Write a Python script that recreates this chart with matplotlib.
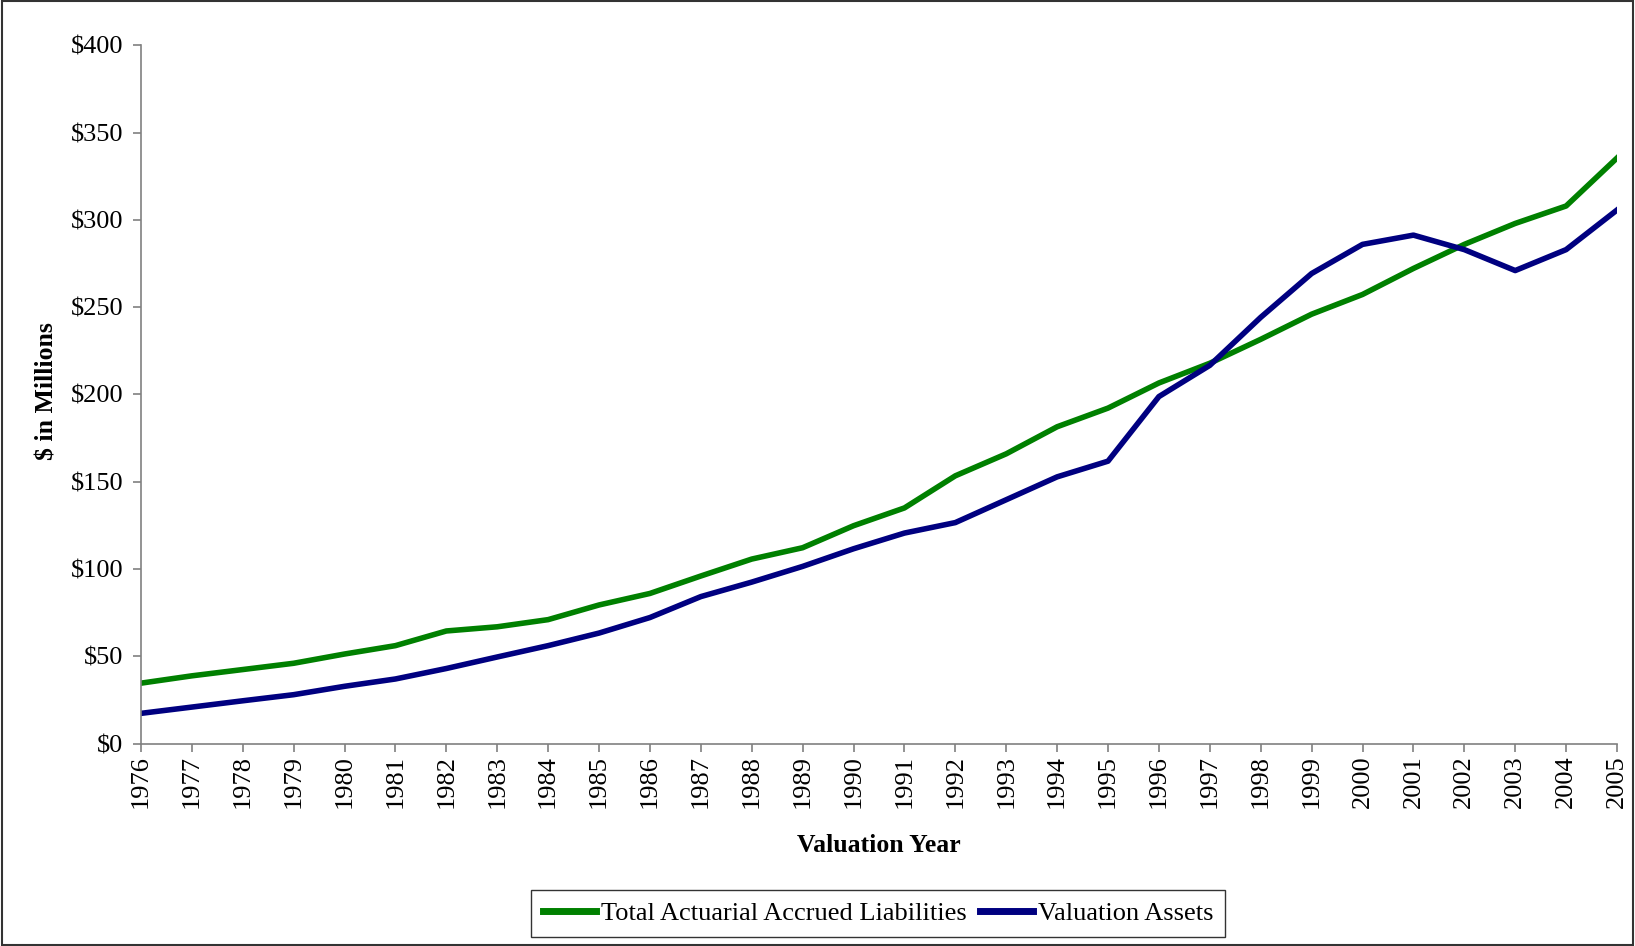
import numpy as np
from matplotlib import pyplot as plt
from matplotlib.patches import Rectangle

# data
years = list(range(1976, 2006))
liabilities = [34.6, 38.8, 42.4, 46.0, 51.3, 56.1, 64.5, 66.9, 71.0, 79.4,
               86.0, 96.0, 105.7, 112.2, 124.8, 135.0, 153.4, 166.0, 181.5, 192.2,
               206.6, 217.9, 231.6, 246.0, 257.3, 272.2, 286.0, 298.0, 308.0, 335.5]
assets = [17.3, 20.9, 24.5, 28.0, 32.8, 37.0, 43.0, 49.6, 56.1, 63.3,
          72.2, 84.2, 92.5, 101.5, 111.6, 120.6, 126.6, 139.7, 152.8, 161.8,
          198.8, 216.7, 244.2, 269.3, 286.0, 291.3, 283.0, 271.0, 283.0, 305.7]
y_ticks = [0, 50, 100, 150, 200, 250, 300, 350, 400]

plt.rcParams['font.family'] = ['Liberation Serif', 'DejaVu Serif']

fig = plt.figure(figsize=(16.35, 9.46), dpi=100)
ax = fig.add_axes([0.0862, 0.214, 0.9028, 0.738])

ax.plot(years, liabilities, color='#008000', lw=4.0, label='Total Actuarial Accrued Liabilities')
ax.plot(years, assets, color='#000080', lw=4.0, label='Valuation Assets')

ax.set_xlim(1976, 2005)
ax.set_ylim(0, 400)
ax.set_xticks(years)
ax.set_xticklabels([str(y) for y in years], rotation=90, fontsize=19)
ax.set_yticks(y_ticks)
ax.set_yticklabels(['\\$%d' % v for v in y_ticks], fontsize=19)

for side in ['top', 'right']:
    ax.spines[side].set_visible(False)
for side in ['left', 'bottom']:
    ax.spines[side].set_color('#808080')
    ax.spines[side].set_linewidth(1.2)
ax.tick_params(axis='both', direction='out', length=5.5, color='#808080', width=1.2)
ax.tick_params(axis='y', pad=7)
ax.tick_params(axis='x', pad=3)

# axis titles placed like in the reference
fig.text(879 / 1635, 1 - 845 / 946, 'Valuation Year', fontsize=18.5, fontweight='bold',
         ha='center', va='center')
fig.text(47 / 1635, 1 - 391 / 946, '\\$ in Millions', fontsize=18.5, fontweight='bold',
         ha='center', va='center', rotation=90)

leg = fig.legend(loc='center', bbox_to_anchor=(878 / 1635, 1 - 913.5 / 946), ncol=2,
                 fontsize=19, frameon=True, fancybox=False, handlelength=2.0,
                 handletextpad=0.2, columnspacing=0.5, borderpad=0.45, borderaxespad=0)
leg.get_frame().set_edgecolor('black')
leg.get_frame().set_linewidth(1.0)
for h in leg.get_lines():
    h.set_linewidth(5)

# outer chart border
fig.patches.append(Rectangle((0.001, 0.001), 0.998, 0.998, transform=fig.transFigure,
                             fill=False, edgecolor='#333333', linewidth=1.5))

fig.savefig('out.png', dpi=100)
